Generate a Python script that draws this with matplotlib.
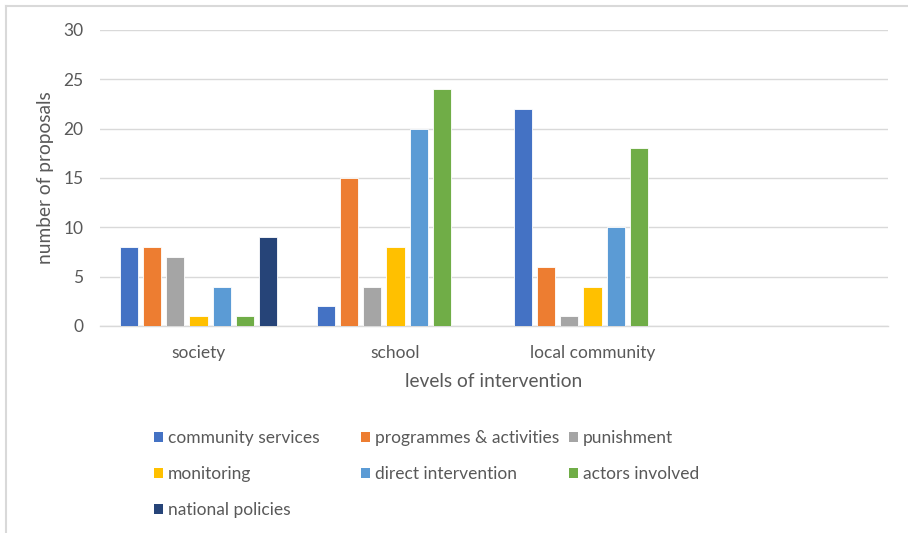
import numpy as np
import matplotlib
matplotlib.use("Agg")
import matplotlib.pyplot as plt
from matplotlib.patches import Patch
from matplotlib.lines import Line2D

plt.rcParams['font.family'] = ['Lato', 'DejaVu Sans']

categories = ["society", "school", "local community", ""]
series_names = ["community services", "programmes & activities", "punishment",
                "monitoring", "direct intervention", "actors involved", "national policies"]
community_services = [8, 2, 22, np.nan]
programmes_activities = [8, 15, 6, np.nan]
punishment = [7, 4, 1, np.nan]
monitoring = [1, 8, 4, np.nan]
direct_intervention = [4, 20, 10, np.nan]
actors_involved = [1, 24, 18, np.nan]
national_policies = [9, np.nan, np.nan, np.nan]
yticks = [0, 5, 10, 15, 20, 25, 30]

series = [community_services, programmes_activities, punishment, monitoring,
          direct_intervention, actors_involved, national_policies]
colors = ["#4472C4", "#ED7D31", "#A5A5A5", "#FFC000", "#5B9BD5", "#70AD47", "#264478"]

W, H = 908, 533
fig = plt.figure(figsize=(W / 100, H / 100), dpi=100)
ax = fig.add_axes([100 / W, 1 - 326 / H, 788 / W, 296 / H])

x = np.arange(len(categories))
step = 0.1176
width = 0.0914
n = len(series)
for i, (vals, c) in enumerate(zip(series, colors)):
    ax.bar(x + (i - (n - 1) / 2) * step, vals, width, color=c,
           edgecolor="white", linewidth=0.6, zorder=3)

ax.set_xlim(-0.5, len(categories) - 0.5)
ax.set_ylim(0, 30)
ax.set_yticks(yticks)
ax.set_xticks(x)
ax.set_xticklabels(categories)
ax.grid(axis="y", color="#D9D9D9", linewidth=1, zorder=0)
for s in ["top", "right", "left"]:
    ax.spines[s].set_visible(False)
ax.spines["bottom"].set_color("#D9D9D9")
ax.spines["bottom"].set_linewidth(1)
ax.tick_params(axis="both", length=0, colors="#595959", labelsize=12.5)
ax.tick_params(axis="y", pad=12)
ax.tick_params(axis="x", pad=13.5)
ax.set_ylabel("number of proposals", fontsize=13.8, color="#595959", labelpad=6.5)
ax.set_xlabel("levels of intervention", fontsize=13.8, color="#595959", labelpad=9)

# Legend: three equal-width columns, row-major order
handles = [Patch(facecolor=c, edgecolor="none") for c in colors]
col_groups = [[0, 3, 6], [1, 4], [2, 5]]
col_x = [154, 361, 569]
for idxs, cx in zip(col_groups, col_x):
    fig.legend([handles[k] for k in idxs], [series_names[k] for k in idxs],
               loc="upper left", bbox_to_anchor=(cx / W, 1 - 430 / H),
               frameon=False, fontsize=12.5, labelcolor="#595959",
               handlelength=0.52, handleheight=0.52, handletextpad=0.3,
               labelspacing=1.16, borderpad=0, borderaxespad=0)

# chart area border
fig.add_artist(Line2D([6 / W, 6 / W], [0, 1 - 6 / H], color="#D9D9D9", linewidth=1.5,
                      transform=fig.transFigure))
fig.add_artist(Line2D([6 / W, 1], [1 - 6 / H, 1 - 6 / H], color="#D9D9D9", linewidth=1.5,
                      transform=fig.transFigure))

fig.savefig("out.png", dpi=100, facecolor="white")
